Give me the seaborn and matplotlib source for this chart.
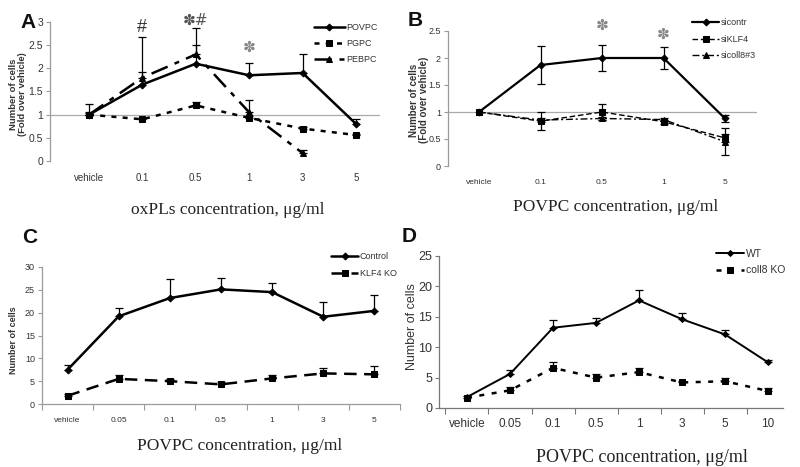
import numpy as np
import pandas as pd
import matplotlib
matplotlib.use("Agg")
import matplotlib.pyplot as plt
import seaborn as sns
from matplotlib.ticker import FixedLocator

sns.set_theme(style="white")
plt.rcParams['font.family'] = ['Liberation Sans', 'DejaVu Sans']

# ---------------- data ----------------
A_cats = ['vehicle', '0.1', '0.5', '1', '3', '5']
A_povpc = [1.0, 1.65, 2.1, 1.85, 1.9, 0.8]
A_povpc_err = [0.22, 0.28, 0.40, 0.27, 0.42, 0.10]
A_pgpc = [1.0, 0.9, 1.2, 0.93, 0.7, 0.56]
A_pgpc_err = [0.03, 0.03, 0.07, 0.04, 0.04, 0.03]
A_pebpc = [1.0, 1.8, 2.3, 1.05, 0.17, np.nan]
A_pebpc_err = [0.05, 0.88, 0.57, 0.27, 0.07, np.nan]

B_cats = ['vehicle', '0.1', '0.5', '1', '5']
B_sicontr = [1.0, 1.87, 2.0, 2.0, 0.88]
B_sicontr_err = [0.0, 0.36, 0.24, 0.21, 0.06]
B_siklf4 = [1.0, 0.83, 1.0, 0.82, 0.52]
B_siklf4_err = [0.0, 0.17, 0.14, 0.04, 0.08]
B_sicoll = [1.0, 0.85, 0.88, 0.86, 0.45]
B_sicoll_err = [0.0, 0.03, 0.03, 0.03, 0.25]

C_cats = ['vehicle', '0.05', '0.1', '0.5', '1', '3', '5']
C_control = [7.5, 19.2, 23.2, 25.1, 24.5, 19.1, 20.4]
C_control_err = [1.0, 1.9, 4.1, 2.4, 2.1, 3.2, 3.5]
C_klf4ko = [1.8, 5.5, 5.0, 4.3, 5.6, 6.7, 6.5]
C_klf4ko_err = [0.3, 0.9, 0.5, 0.6, 0.7, 1.1, 1.9]

D_cats = ['vehicle', '0.05', '0.1', '0.5', '1', '3', '5', '10']
D_wt = [1.8, 5.6, 13.2, 14.0, 17.7, 14.6, 12.1, 7.5]
D_wt_err = [0.0, 0.7, 1.3, 0.8, 1.7, 1.0, 0.8, 0.4]
D_coll8 = [1.7, 2.9, 6.6, 5.0, 5.9, 4.2, 4.4, 2.8]
D_coll8_err = [0.2, 0.6, 1.0, 0.6, 0.6, 0.3, 0.6, 0.5]

W, H = 800, 467
fig = plt.figure(figsize=(8, 4.67), dpi=100)


def box(l, r, t, b):
    return [l / W, 1 - b / H, (r - l) / W, (b - t) / H]


def fx(x):
    return x / W


def fy(y):
    return 1 - y / H


AX_GRAY = '#9a9a9a'
TXT = '#333333'


def series(ax, vals, errs, label, marker, ms, ls, lw, two_sided=False, cap=3):
    pos = np.arange(len(vals))
    df = pd.DataFrame({'x': pos, 'y': vals})
    sns.lineplot(data=df, x='x', y='y', ax=ax, color='black', marker=marker,
                 markersize=ms, linestyle=ls, linewidth=lw, label=label,
                 markeredgecolor='black', markerfacecolor='black')
    v = np.array(vals, float)
    e = np.array(errs, float)
    m = ~np.isnan(v) & ~np.isnan(e) & (e > 0)
    lower = e[m] if two_sided else np.zeros(m.sum())
    ax.errorbar(pos[m], v[m], yerr=[lower, e[m]], fmt='none', ecolor='black',
                elinewidth=0.9, capsize=cap, capthick=0.9, zorder=1)
    ax.set_xlabel('')
    ax.set_ylabel('')


def base_axes(rect, ncat, xlim, ylim, yticks, ylabels, tick_fs, xtick_fs, cats,
              hline=None, xpad=4, boundary_ticks=False, spine_col=AX_GRAY):
    ax = fig.add_axes(rect)
    ax.set_facecolor('none')
    for s in ['top', 'right']:
        ax.spines[s].set_visible(False)
    ax.spines['left'].set_color(spine_col)
    ax.spines['left'].set_linewidth(0.9)
    if hline is None:
        ax.spines['bottom'].set_color(spine_col)
        ax.spines['bottom'].set_linewidth(0.9)
    else:
        ax.spines['bottom'].set_visible(False)
        ax.axhline(hline, color='#aaaaaa', lw=0.9, zorder=0)
    ax.set_xlim(*xlim)
    ax.set_ylim(*ylim)
    ax.set_yticks(yticks)
    ax.set_yticklabels(ylabels, fontsize=tick_fs, color=TXT)
    ax.set_xticks(np.arange(ncat))
    ax.set_xticklabels(cats, fontsize=xtick_fs, color=TXT)
    ax.tick_params(axis='y', direction='out', length=3, width=0.8, color=spine_col,
                   left=True, pad=2)
    ax.tick_params(axis='x', which='major', length=0, pad=xpad)
    if boundary_ticks:
        ax.xaxis.set_minor_locator(FixedLocator(np.arange(ncat + 1) - 0.5))
        ax.tick_params(axis='x', which='minor', direction='out', length=4,
                       width=0.8, color=spine_col, bottom=True)
    ax.grid(False)
    return ax


def place_legend(ax, x, y, fs, hl, ls):
    h, l = ax.get_legend_handles_labels()
    ax.legend(h, l, loc='upper left', bbox_to_anchor=(fx(x), fy(y)),
              bbox_transform=fig.transFigure, frameon=False, fontsize=fs,
              handlelength=hl, handletextpad=0.2, labelspacing=ls,
              borderaxespad=0, borderpad=0, labelcolor=TXT)


# ---------------- Panel A ----------------
sp = 53.4
axA = base_axes(box(50, 380, 22, 161), 6, ((50 - 89) / sp, (380 - 89) / sp), (0, 3),
                [0, 0.5, 1, 1.5, 2, 2.5, 3], ['0', '0.5', '1', '1.5', '2', '2.5', '3'],
                7.5, 7, A_cats, hline=1, xpad=9)
series(axA, A_povpc, A_povpc_err, 'POVPC', 'D', 3.5, '-', 1.8)
series(axA, A_pgpc, A_pgpc_err, 'PGPC', 's', 4.5, (0, (2, 2.5)), 1.8)
series(axA, A_pebpc, A_pebpc_err, 'PEBPC', '^', 5, (0, (7, 3, 2, 3)), 1.8)
place_legend(axA, 314, 23, 6.5, 3.4, 0.8)
axA.text(1, 2.89, '#', ha='center', va='center', fontsize=13, color='#333333')
axA.text(2, 3.04, '✽#', ha='center', va='center', fontsize=11,
         color='#555555', family=['DejaVu Sans'])
axA.text(3, 2.46, '✽', ha='center', va='center', fontsize=11,
         color='#888888', family=['DejaVu Sans'])
fig.text(fx(18), fy(94), 'Number of cells\n(Fold over vehicle)', rotation=90,
         ha='center', va='center', fontsize=6.8, fontweight='bold', color=TXT,
         linespacing=1.05)
fig.text(fx(228), fy(210), 'oxPLs concentration, μg/ml', ha='center', va='center',
         fontsize=12.5, family=['Liberation Serif', 'DejaVu Serif'], color='#222222')
fig.text(fx(20), fy(22), 'A', ha='left', va='center', fontsize=15,
         fontweight='bold', color='#111111')

# ---------------- Panel B ----------------
sp = 61.5
axB = base_axes(box(448, 757, 31, 166), 5, ((448 - 479) / sp, (757 - 479) / sp), (0, 2.5),
                [0, 0.5, 1, 1.5, 2, 2.5], ['0', '0.5', '1', '1.5', '2', '2.5'],
                6.5, 6, B_cats, hline=1, xpad=9)
series(axB, B_sicontr, B_sicontr_err, 'sicontr', 'D', 3.5, '-', 1.6, two_sided=True)
series(axB, B_siklf4, B_siklf4_err, 'siKLF4', 's', 4, (0, (4, 2)), 1.0, two_sided=True)
series(axB, B_sicoll, B_sicoll_err, 'sicoll8#3', '^', 4, (0, (5, 2, 1.5, 2)), 1.0,
       two_sided=True)
place_legend(axB, 692, 18, 6.5, 3.0, 0.85)
axB.text(2, 2.6, '✽', ha='center', va='center', fontsize=11, color='#888888',
         family=['DejaVu Sans'])
axB.text(3, 2.44, '✽', ha='center', va='center', fontsize=11, color='#888888',
         family=['DejaVu Sans'])
fig.text(fx(419), fy(100), 'Number of cells\n(Fold over vehicle)', rotation=90,
         ha='center', va='center', fontsize=7, fontweight='bold', color=TXT,
         linespacing=1.05)
fig.text(fx(616), fy(207), 'POVPC concentration, μg/ml', ha='center', va='center',
         fontsize=12.5, family=['Liberation Serif', 'DejaVu Serif'], color='#222222')
fig.text(fx(408), fy(20), 'B', ha='left', va='center', fontsize=15,
         fontweight='bold', color='#111111')

# ---------------- Panel C ----------------
axC = base_axes(box(42, 400, 267, 404), 7, (-0.5, 6.5), (0, 30),
                [0, 5, 10, 15, 20, 25, 30], ['0', '5', '10', '15', '20', '25', '30'],
                6.5, 6, C_cats, xpad=9, boundary_ticks=True)
series(axC, C_control, C_control_err, 'Control', 'D', 3.5, '-', 1.8)
series(axC, C_klf4ko, C_klf4ko_err, 'KLF4 KO', 's', 4.5, (0, (5, 3)), 1.8)
place_legend(axC, 331, 252, 6.5, 3.0, 0.85)
fig.text(fx(14), fy(340), 'Number of cells', rotation=90, ha='center', va='center',
         fontsize=6.5, fontweight='bold', color=TXT)
fig.text(fx(240), fy(446), 'POVPC concentration, μg/ml', ha='center', va='center',
         fontsize=12.5, family=['Liberation Serif', 'DejaVu Serif'], color='#222222')
fig.text(fx(22), fy(238), 'C', ha='left', va='center', fontsize=15,
         fontweight='bold', color='#111111')

# ---------------- Panel D ----------------
sp = 43.0
axD = base_axes(box(439, 783, 256, 408), 8, ((439 - 467) / sp, (783 - 467) / sp), (0, 25),
                [0, 5, 10, 15, 20, 25], ['0', '5', '10', '15', '20', '25'],
                9, 8.5, D_cats, xpad=7, boundary_ticks=True, spine_col='#777777')
series(axD, D_wt, D_wt_err, 'WT', 'D', 3.0, '-', 1.4)
series(axD, D_coll8, D_coll8_err, 'coll8 KO', 's', 4.0, (0, (2, 3)), 1.8)
place_legend(axD, 716, 249, 7.5, 2.7, 0.6)
fig.text(fx(412), fy(327), 'Number of cells', rotation=90, ha='center', va='center',
         fontsize=9, color=TXT)
fig.text(fx(642), fy(457), 'POVPC concentration, μg/ml', ha='center', va='center',
         fontsize=13, family=['Liberation Serif', 'DejaVu Serif'], color='#222222')
fig.text(fx(402), fy(237), 'D', ha='left', va='center', fontsize=15,
         fontweight='bold', color='#111111')

fig.savefig('out.png', dpi=100)
